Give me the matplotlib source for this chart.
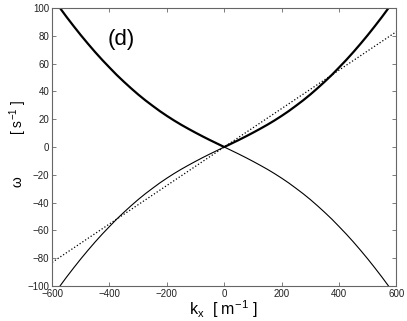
import matplotlib
matplotlib.use('Agg')
import matplotlib.pyplot as plt
import numpy as np

plt.rcParams['font.family'] = ['Liberation Sans', 'DejaVu Sans']
plt.rcParams['mathtext.fontset'] = 'custom'
plt.rcParams['mathtext.rm'] = 'Liberation Sans'
plt.rcParams['mathtext.it'] = 'Liberation Sans:italic'

# |k_x| [1/m] and the upper branch omega [1/s] (symmetric in k_x)
k_abs = [0, 25, 50, 75, 100, 125, 150, 175, 200, 225, 250, 275, 300,
         325, 350, 375, 400, 425, 450, 475, 500, 525, 550, 575, 600]
w_abs = [0.0, 2.5, 5.0, 7.6, 10.3, 13.1, 16.0, 19.1, 22.4, 25.9, 29.7, 33.6, 37.8,
         42.3, 47.0, 51.9, 57.2, 62.6, 68.3, 74.3, 80.5, 87.0, 93.7, 100.7, 107.8]

# dotted line end points
k_line = [-600, 600]
w_line = [-83, 83]

kx = np.concatenate([-np.array(k_abs[:0:-1]), k_abs])
w_up = np.concatenate([np.array(w_abs[:0:-1]), w_abs])
w_dn = -w_up

fig = plt.figure(figsize=(4.07, 3.21), dpi=100)
ax = fig.add_axes([0.128, 0.109, 0.846, 0.866])

ax.plot(kx, w_up, color='black', lw=1.6)
ax.plot(kx, w_dn, color='black', lw=0.8)
ax.plot(k_line, w_line, color='black', lw=0.9, ls=':')

ax.set_xlim(-600, 600)
ax.set_ylim(-100, 100)
ax.set_xticks(np.arange(-600, 601, 200))
ax.set_yticks(np.arange(-100, 101, 20))
ax.tick_params(direction='in', length=3, width=0.6, labelsize=7, color='#666666',
               labelcolor='#222222', top=True, right=True, pad=2)
ax.tick_params(axis='x', pad=2.5)
for s in ax.spines.values():
    s.set_color('#666666')
    s.set_linewidth(0.8)

ax.set_xlabel(r'k$_\mathregular{x}$  [ m$^\mathregular{-1}$ ]', fontsize=11.5)
ax.xaxis.set_label_coords(0.497, -0.046)
ax.set_ylabel(r'ω           [ s$^\mathregular{-1}$ ]', fontsize=10)
ax.yaxis.set_label_coords(-0.066, 0.51)
ax.text(-405, 77, '(d)', fontsize=16, ha='left', va='center')

fig.savefig('out.png', dpi=100)
